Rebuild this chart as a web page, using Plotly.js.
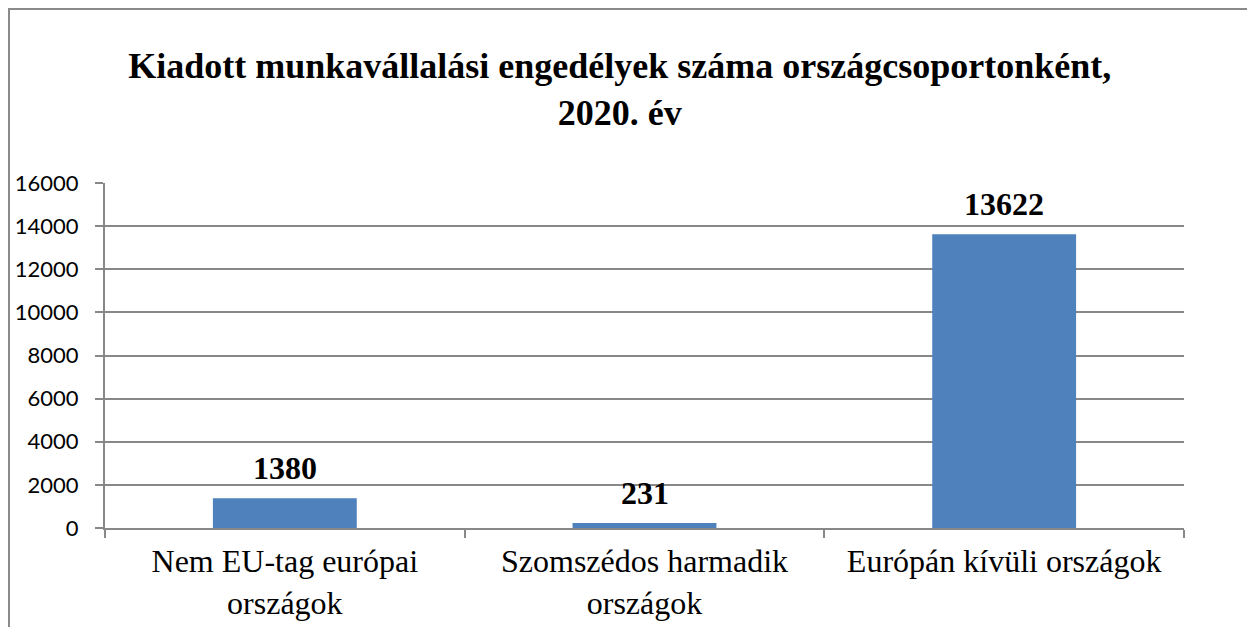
<!DOCTYPE html>
<html>
<head>
<meta charset="utf-8">
<script src="https://cdn.plot.ly/plotly-3.0.1.min.js"></script>
<style>
  html, body { margin: 0; padding: 0; background: #fff; }
  #wrap { position: relative; width: 1247px; height: 627px; overflow: hidden; }
  #frame { position: absolute; left: 8px; top: 8px; width: 1300px; height: 700px;
           border-left: 2px solid #8a8a8a; border-top: 2px solid #8a8a8a; pointer-events: none; z-index: 5; }
  #chart { position: absolute; left: 0; top: 0; width: 1247px; height: 627px; }
</style>
</head>
<body>
<div id="wrap">
  <div id="chart"></div>
  <div id="frame"></div>
</div>
<script>
const categories = ["Nem EU-tag európai<br>országok", "Szomszédos harmadik<br>országok", "Európán kívüli országok"];
const values = [1380, 231, 13622];
const yTicks = [0, 2000, 4000, 6000, 8000, 10000, 12000, 14000, 16000];
const titleText = "Kiadott munkavállalási engedélyek száma országcsoportonként,<br>2020. év";

const serif = "Liberation Serif";
const sans = "Lato";
const gridColor = "#888888";

const trace = {
  type: "bar",
  x: categories,
  y: values,
  marker: { color: "#4F81BD", line: { width: 0 } },
  hoverinfo: "skip"
};

const annotations = categories.map((c, i) => ({
  x: c, y: values[i], xref: "x", yref: "y",
  text: "<b>" + values[i] + "</b>",
  showarrow: false, yanchor: "bottom", yshift: 10,
  font: { family: serif, size: 32, color: "#000" }
}));

const layout = {
  width: 1247, height: 627,
  margin: { l: 105, r: 63, t: 183, b: 99 },
  paper_bgcolor: "#fff", plot_bgcolor: "#fff",
  font: { family: serif, color: "#000" },
  showlegend: false,
  bargap: 0.6,
  title: {
    text: "<b>" + titleText + "</b>",
    font: { family: serif, size: 36, color: "#000" },
    xref: "container", x: 0.497, xanchor: "center",
    yref: "container", y: 0.876, yanchor: "top"
  },
  xaxis: {
    type: "category",
    tickson: "boundaries",
    ticks: "outside", ticklen: 8, tickwidth: 2, tickcolor: gridColor,
    showline: true, linecolor: gridColor, linewidth: 2,
    showgrid: false,
    ticklabelstandoff: 4,
    tickfont: { family: serif, size: 32, color: "#000" },
    fixedrange: true
  },
  yaxis: {
    range: [0, 16000],
    tickvals: yTicks,
    ticktext: yTicks.map(String),
    ticks: "outside", ticklen: 8, tickwidth: 2, tickcolor: gridColor,
    showline: true, linecolor: gridColor, linewidth: 2,
    showgrid: true, gridcolor: gridColor, gridwidth: 2,
    zeroline: false,
    ticklabelstandoff: 12,
    tickfont: { family: sans, size: 22, color: "#000" },
    fixedrange: true
  },
  annotations: annotations
};

Plotly.newPlot("chart", [trace], layout, { displayModeBar: false, staticPlot: true });
</script>
</body>
</html>
